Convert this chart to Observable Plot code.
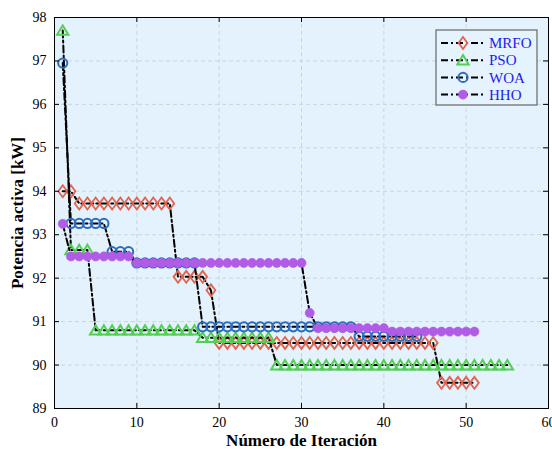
<!DOCTYPE html>
<html>
<head>
<meta charset="utf-8">
<script src="https://cdn.jsdelivr.net/npm/d3@7"></script>
<script src="https://cdn.jsdelivr.net/npm/@observablehq/plot@0.6"></script>
<style>
  html, body { margin: 0; padding: 0; background: #ffffff; }
  #wrap { position: relative; width: 552px; height: 449px; }
  #wrap svg text { font-family: "Liberation Serif", "Times New Roman", serif; }
  g[aria-label="x-axis label"] text, g[aria-label="y-axis label"] text { font-weight: bold; font-size: 17px; }
  #legend { position: absolute; }
</style>
</head>
<body>
<div id="wrap"></div>
<script>
// ---- data ----
const seriesNames = ["MRFO", "PSO", "WOA", "HHO"];
const mrfo = [94.0, 94.0,
  93.72, 93.72, 93.72, 93.72, 93.72, 93.72, 93.72, 93.72, 93.72, 93.72, 93.72, 93.72,
  92.03, 92.03, 92.03, 92.03, 91.72,
  90.51, 90.51, 90.51, 90.51, 90.51, 90.51, 90.51, 90.51, 90.51, 90.51, 90.51, 90.51, 90.51, 90.51,
  90.51, 90.51, 90.51, 90.51, 90.51, 90.51, 90.51, 90.51, 90.51, 90.51, 90.51, 90.51, 90.51,
  89.59, 89.59, 89.59, 89.59, 89.59];
const pso = [97.70, 92.65, 92.65, 92.65,
  90.80, 90.80, 90.80, 90.80, 90.80, 90.80, 90.80, 90.80, 90.80, 90.80, 90.80, 90.80, 90.80,
  90.63, 90.63, 90.63, 90.63, 90.63, 90.63, 90.63, 90.63, 90.63,
  90.0, 90.0, 90.0, 90.0, 90.0, 90.0, 90.0, 90.0, 90.0, 90.0, 90.0, 90.0, 90.0, 90.0, 90.0,
  90.0, 90.0, 90.0, 90.0, 90.0, 90.0, 90.0, 90.0, 90.0, 90.0, 90.0, 90.0, 90.0, 90.0];
const woa = [96.95, 93.26, 93.26, 93.26, 93.26, 93.26, 92.61, 92.61, 92.61,
  92.35, 92.35, 92.35, 92.35, 92.35, 92.35, 92.35, 92.35,
  90.88, 90.88, 90.88, 90.88, 90.88, 90.88, 90.88, 90.88, 90.88, 90.88,
  90.88, 90.88, 90.88, 90.88, 90.88, 90.88, 90.88, 90.88, 90.88,
  90.66, 90.66, 90.66, 90.66, 90.66, 90.66, 90.66, 90.66];
const hho = [93.25, 92.5, 92.5, 92.5, 92.5, 92.5, 92.5, 92.5, 92.5,
  92.35, 92.35, 92.35, 92.35, 92.35, 92.35, 92.35, 92.35, 92.35, 92.35, 92.35,
  92.35, 92.35, 92.35, 92.35, 92.35, 92.35, 92.35, 92.35, 92.35, 92.35,
  91.2,
  90.85, 90.85, 90.85, 90.85, 90.85, 90.85, 90.85, 90.85, 90.85,
  90.77, 90.77, 90.77, 90.77, 90.77, 90.77, 90.77, 90.77, 90.77, 90.77, 90.77];
const xTicks = [0, 10, 20, 30, 40, 50, 60];
const yTicks = [89, 90, 91, 92, 93, 94, 95, 96, 97, 98];

// ---- layout / style ----
const W = 552, H = 449, mL = 54, mR = 4, mT = 17, mB = 41;
const pw = W - mL - mR, ph = H - mT - mB;
const colors = {MRFO: "#e2644f", PSO: "#52d052", WOA: "#2c6cc2", HHO: "#b15be6"};
const dash = "7,3,2,3";

const toRows = arr => arr.map((v, i) => ({it: i + 1, v}));
const D = {MRFO: toRows(mrfo), PSO: toRows(pso), WOA: toRows(woa), HHO: toRows(hho)};

const diamondSym = {draw(ctx, size) {
  const r = Math.sqrt(size / Math.PI);
  const h = r * 1.15, w = r * 0.85;
  ctx.moveTo(0, -h); ctx.lineTo(w, 0); ctx.lineTo(0, h); ctx.lineTo(-w, 0); ctx.closePath();
}};
const triSym = {draw(ctx, size) {
  const r = Math.sqrt(size / Math.PI);
  const w = r * 1.05, top = -r * 0.95, bot = r * 0.8;
  ctx.moveTo(0, top); ctx.lineTo(w, bot); ctx.lineTo(-w, bot); ctx.closePath();
}};

const markerOpts = {
  MRFO: {symbol: diamondSym, r: 5.2, fill: "none", stroke: colors.MRFO, strokeWidth: 1.8},
  PSO: {symbol: triSym, r: 5.4, fill: "none", stroke: colors.PSO, strokeWidth: 2},
  WOA: {symbol: "circle", r: 4.6, fill: "none", stroke: colors.WOA, strokeWidth: 2},
  HHO: {symbol: "circle", r: 4.6, fill: colors.HHO, stroke: colors.HHO, strokeWidth: 0.5}
};

const seriesMarks = seriesNames.flatMap(name => [
  Plot.line(D[name], {x: "it", y: "v", stroke: "black", strokeWidth: 2, strokeDasharray: dash}),
  Plot.dot(D[name], {x: "it", y: "v", ...markerOpts[name]})
]);

const chart = Plot.plot({
  width: W, height: H,
  marginLeft: mL, marginRight: mR, marginTop: mT, marginBottom: mB,
  style: {fontFamily: "'Liberation Serif', 'Times New Roman', serif", fontSize: "14px", background: "white", color: "black"},
  x: {domain: [0, 60]},
  y: {domain: [89, 98]},
  marks: [
    Plot.frame({fill: "#e3f2fc", stroke: null}),
    Plot.gridX(xTicks, {stroke: "#c9d5de", strokeOpacity: 1, strokeDasharray: "4,3"}),
    Plot.gridY(yTicks, {stroke: "#c9d5de", strokeOpacity: 1, strokeDasharray: "4,3"}),
    ...seriesMarks,
    Plot.tickY(yTicks, {y: d => d, stroke: "black", insetRight: pw - 5}),
    Plot.tickY(yTicks, {y: d => d, stroke: "black", insetLeft: pw - 5}),
    Plot.tickX(xTicks, {x: d => d, stroke: "black", insetTop: ph - 5}),
    Plot.tickX(xTicks, {x: d => d, stroke: "black", insetBottom: ph - 5}),
    Plot.frame({stroke: "black", strokeWidth: 1}),
    Plot.axisX(xTicks, {tickSize: 0, tickPadding: 9, fontSize: 14, label: "Número de Iteración",
      labelAnchor: "center", labelOffset: 37, labelArrow: "none"}),
    Plot.axisY(yTicks, {tickSize: 0, tickPadding: 8, fontSize: 14, label: "Potencia activa [kW]",
      labelAnchor: "center", labelOffset: 44, labelArrow: "none"})
  ]
});
const wrap = document.getElementById("wrap");
wrap.appendChild(chart);

// ---- legend overlay ----
const lg = d3.select(wrap).append("svg").attr("id", "legend")
  .attr("width", 104).attr("height", 78)
  .style("left", "435px").style("top", "29px");
lg.append("rect").attr("x", 1).attr("y", 1).attr("width", 101).attr("height", 75)
  .attr("fill", "#e4f3fd").attr("stroke", "#707070").attr("stroke-width", 1.3);
const symPath = {
  MRFO: d3.symbol().type(diamondSym).size(Math.PI * 5.2 * 5.2)(),
  PSO: d3.symbol().type(triSym).size(Math.PI * 5.4 * 5.4)(),
  WOA: d3.symbol().type(d3.symbolCircle).size(Math.PI * 4.6 * 4.6)(),
  HHO: d3.symbol().type(d3.symbolCircle).size(Math.PI * 4.6 * 4.6)()
};
seriesNames.forEach((name, i) => {
  const cy = 14 + i * 17.2;
  const g = lg.append("g").attr("transform", `translate(0,${cy})`);
  g.append("line").attr("x1", 6).attr("x2", 48).attr("y1", 0).attr("y2", 0)
    .attr("stroke", "black").attr("stroke-width", 2).attr("stroke-dasharray", dash);
  const o = markerOpts[name];
  g.append("path").attr("d", symPath[name]).attr("transform", "translate(28,0)")
    .attr("fill", o.fill).attr("stroke", o.stroke).attr("stroke-width", o.strokeWidth);
  g.append("text").attr("x", 54).attr("y", 0).attr("dy", "0.35em")
    .attr("fill", "#1c1cf0").style("font-size", "15px").text(name);
});
</script>
</body>
</html>
